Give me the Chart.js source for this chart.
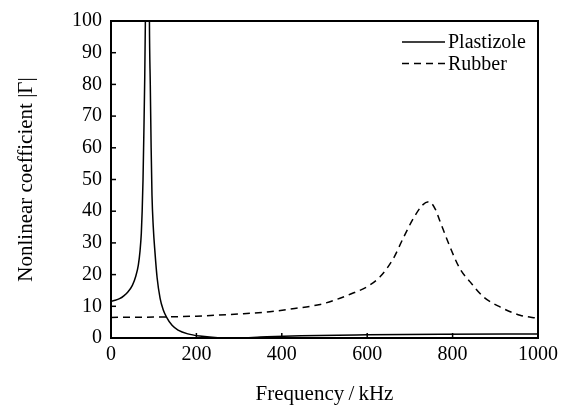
<!DOCTYPE html>
<html>
<head>
<meta charset="utf-8">
<script src="https://cdn.jsdelivr.net/npm/chart.js@4"></script>
<style>
  html, body { margin: 0; padding: 0; background: #fff; }
  #wrap { width: 573px; height: 405px; }
</style>
</head>
<body>
<div id="wrap"><canvas id="grafico"></canvas></div>
<script>
// valores
const plastFreq = [0, 10, 20, 30, 40, 50, 58, 64, 68, 71, 73, 75, 77, 79, 80.5, 87, 90, 92, 94, 96, 99, 103, 108, 115, 122, 130, 143, 157, 180, 208, 250, 300, 350, 445, 600, 773, 1000];
const plastGamma = [11.6, 11.9, 12.4, 13.3, 14.6, 16.6, 19.5, 23, 27.5, 33, 40, 50, 65, 82, 100, 200, 100, 80, 60, 45, 35, 27, 19, 12.5, 9, 6.6, 4, 2.5, 1.3, 0.6, 0.1, 0.05, 0.3, 0.7, 1.0, 1.2, 1.3];

const rubberFreq = [0, 100, 200, 300, 372, 430, 490, 525, 560, 600, 630, 661, 684, 708, 730, 745, 760, 770, 794, 817, 841, 872, 911, 958, 1000];
const rubberGamma = [6.5, 6.6, 6.9, 7.6, 8.3, 9.3, 10.6, 12, 13.8, 16.2, 19.3, 25, 31.4, 37.7, 42, 43, 40.5, 37, 28.7, 21.9, 17.7, 13, 9.8, 7.2, 6.2];

const xTicks = [0, 200, 400, 600, 800, 1000];
const yTicks = [0, 10, 20, 30, 40, 50, 60, 70, 80, 90, 100];

const fonte = 'Liberation Serif, Times New Roman, serif';

const pontos = (xs, ys) => xs.map((x, i) => ({ x, y: ys[i] }));

// moldura, ticks para dentro e legenda dentro do gráfico
const molduraPlugin = {
    id: 'moldura',
    afterDatasetsDraw(chart) {
        const { ctx, chartArea: a, scales } = chart;
        ctx.save();
        ctx.strokeStyle = '#000';
        ctx.lineWidth = 1.5;
        xTicks.forEach(v => {
            const px = scales.x.getPixelForValue(v);
            ctx.beginPath();
            ctx.moveTo(px, a.bottom);
            ctx.lineTo(px, a.bottom - 5);
            ctx.stroke();
        });
        yTicks.forEach(v => {
            const py = scales.y.getPixelForValue(v);
            ctx.beginPath();
            ctx.moveTo(a.left, py);
            ctx.lineTo(a.left + 5, py);
            ctx.stroke();
        });
        ctx.lineWidth = 2;
        ctx.strokeRect(a.left, a.top, a.right - a.left, a.bottom - a.top);

        // legenda
        ctx.font = '20px ' + fonte;
        ctx.fillStyle = '#000';
        ctx.textBaseline = 'middle';
        chart.data.datasets.forEach((ds, i) => {
            const y = 42 + i * 21.5;
            ctx.lineWidth = 1.5;
            ctx.setLineDash(ds.borderDash || []);
            ctx.beginPath();
            ctx.moveTo(402, y);
            ctx.lineTo(445, y);
            ctx.stroke();
            ctx.setLineDash([]);
            ctx.fillText(ds.label, 448, y + 1);
        });
        ctx.restore();
    }
};

new Chart(document.getElementById('grafico').getContext('2d'), {
    type: 'line',
    data: {
        datasets: [{
            label: 'Plastizole',
            data: pontos(plastFreq, plastGamma),
            borderColor: '#000',
            borderWidth: 1.5,
            pointRadius: 0,
            cubicInterpolationMode: 'monotone',
            fill: false
        }, {
            label: 'Rubber',
            data: pontos(rubberFreq, rubberGamma),
            borderColor: '#000',
            borderWidth: 1.5,
            borderDash: [7, 5],
            pointRadius: 0,
            cubicInterpolationMode: 'monotone',
            fill: false
        }]
    },
    options: {
        responsive: true,
        maintainAspectRatio: false,
        animation: false,
        layout: { padding: { top: 20, right: 35, left: 0, bottom: 0 } },
        plugins: {
            legend: { display: false },
            tooltip: { enabled: false }
        },
        scales: {
            x: {
                type: 'linear',
                min: 0,
                max: 1000,
                afterBuildTicks: s => { s.ticks = xTicks.map(v => ({ value: v })); },
                afterFit: s => { s.height = 67; },
                grid: { display: false, drawTicks: false },
                border: { display: false },
                ticks: {
                    color: '#000',
                    padding: 5,
                    maxRotation: 0,
                    callback: v => String(v),
                    font: { family: fonte, size: 20 }
                },
                title: {
                    display: true,
                    text: 'Frequency\u2009/\u2009kHz',
                    color: '#000',
                    padding: 0,
                    font: { family: fonte, size: 21, lineHeight: 1 }
                }
            },
            y: {
                min: 0,
                max: 100,
                afterBuildTicks: s => { s.ticks = yTicks.map(v => ({ value: v })); },
                afterFit: s => { s.width = 111; },
                grid: { display: false, drawTicks: false },
                border: { display: false },
                ticks: { color: '#000', padding: 9, font: { family: fonte, size: 20 } },
                title: {
                    display: true,
                    text: 'Nonlinear coefficient |Γ|',
                    color: '#000',
                    padding: { top: 16, bottom: 0 },
                    font: { family: fonte, size: 21, lineHeight: 1 }
                }
            }
        }
    },
    plugins: [molduraPlugin]
});
</script>
</body>
</html>
